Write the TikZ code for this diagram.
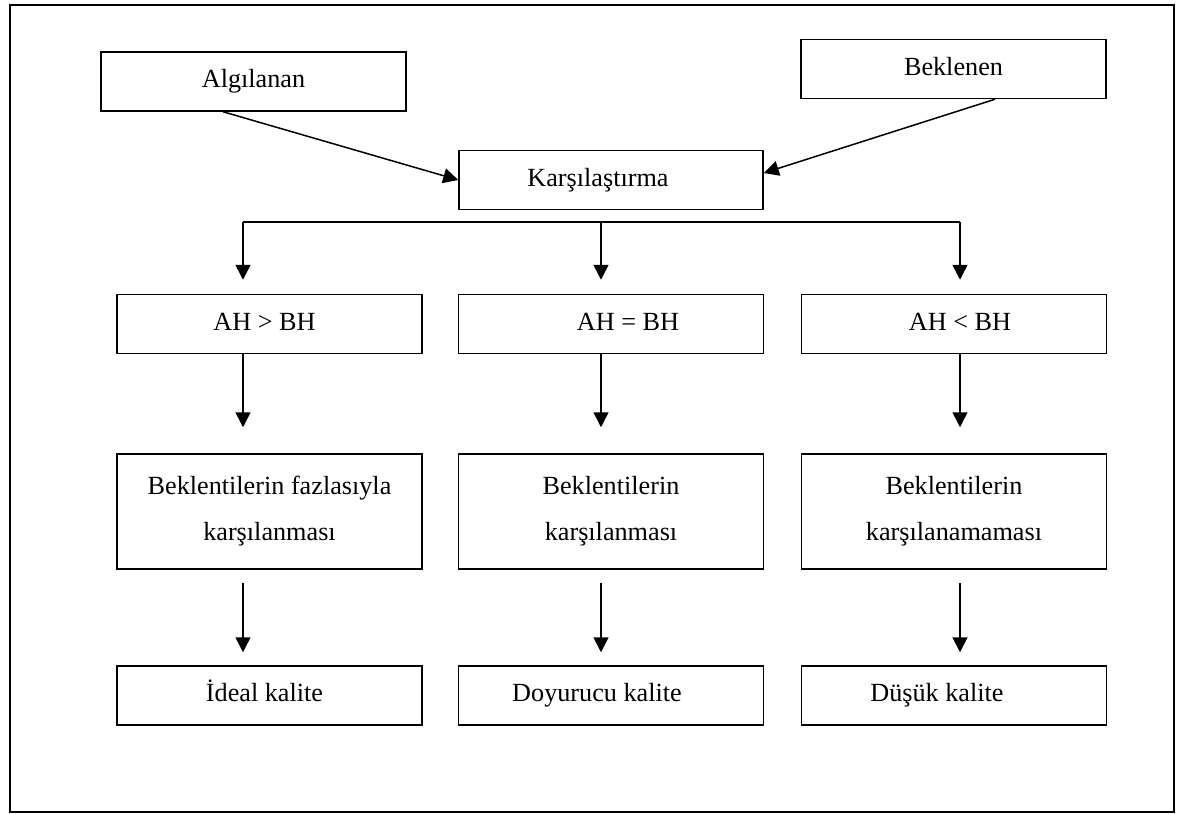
\documentclass[tikz,border=0pt]{standalone}
\usepackage{fontspec}
\setmainfont{Liberation Serif}
\usetikzlibrary{arrows.meta}

\begin{document}
\begin{tikzpicture}[x=0.5pt, y=-0.5pt, >={Triangle[length=7.5pt,width=7.5pt]}, line width=0.75pt,
    base/.style={draw, minimum width=152.5pt, inner sep=0pt, font=\fontsize{13.1}{23}\selectfont},
    box/.style={base, minimum height=29.5pt, text height=9pt, text depth=3pt},
    tall/.style={base, minimum height=57.5pt, align=center}]
    % sayfa sınırları ve dış çerçeve
    \useasboundingbox (0,0) rectangle (1185,814);
    \draw (10,5) rectangle (1174,812);

    % üst kutular
    \node[box] (alg) at (253.5,81.5) {Algılanan};
    \node[box] (bek) at (953.5,69) {Beklenen};
    \node[box, minimum width=152pt] (kar) at (611,180) {\hspace*{-13pt}Karşılaştırma};

    % karşılaştırmaya giden oklar
    \draw[->] ([xshift=-15.25pt]alg.south) -- (kar.west);
    \draw[->] ([xshift=20.75pt]bek.south) -- ([yshift=3.5pt]kar.east);

    % ikinci sıra: AH ve BH karşılaştırması
    \node[box] (gt) at (269.5,324) {\hspace*{-5pt}AH > BH};
    \node[box] (eq) at (611,324) {\hspace*{17pt}AH = BH};
    \node[box] (lt) at (954,324) {\hspace*{6pt}AH < BH};

    % üçüncü sıra: beklentiler
    \node[tall] (fazla) at (269.5,511.5) {Beklentilerin fazlasıyla\\karşılanması};
    \node[tall] (karsi) at (611,511.5) {Beklentilerin\\karşılanması};
    \node[tall] (eksik) at (954,511.5) {Beklentilerin\\karşılanamaması};

    % dördüncü sıra: kalite düzeyi
    \node[box] (ideal) at (269.5,695.5) {\hspace*{-5pt}İdeal kalite};
    \node[box] (doy) at (611,695.5) {\hspace*{-14pt}Doyurucu kalite};
    \node[box] (dusuk) at (954,695.5) {\hspace*{-17pt}Düşük kalite};

    % dallanma çizgisi
    \coordinate (colA) at (243,222);
    \coordinate (colB) at (601,222);
    \coordinate (colC) at (960,222);
    \draw (colA) -- (colC);
    \foreach \c/\n in {colA/gt, colB/eq, colC/lt}
        \draw[->, shorten >=7pt] (\c) -- (\c |- \n.north);

    % sıralar arasındaki dikey oklar
    \foreach \c/\a/\b in {colA/gt/fazla, colB/eq/karsi, colC/lt/eksik}
        \draw[->, shorten >=13pt] (\c |- \a.south) -- (\c |- \b.north);
    \foreach \c/\a/\b in {colA/fazla/ideal, colB/karsi/doy, colC/eksik/dusuk}
        \draw[->, shorten <=6.5pt, shorten >=6.5pt] (\c |- \a.south) -- (\c |- \b.north);
\end{tikzpicture}
\end{document}
